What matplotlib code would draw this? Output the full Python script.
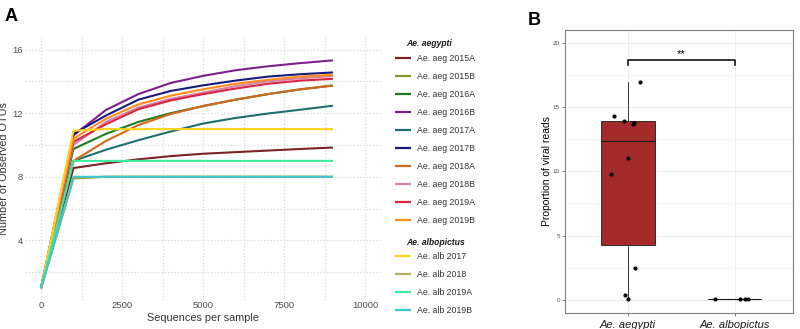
import matplotlib
matplotlib.use('Agg')
import matplotlib.pyplot as plt
import numpy as np

plt.rcParams['font.family'] = ['Liberation Sans', 'DejaVu Sans']

# --- panel A: rarefaction curves ---
depth = [0, 1000, 2000, 3000, 4000, 5000, 6000, 7000, 8000, 9000]

aeg_2015A = [1, 8.55, 8.85, 9.1, 9.3, 9.45, 9.55, 9.65, 9.75, 9.84]
aeg_2015B = [1, 7.9, 8.0, 8.0, 8.0, 8.0, 8.0, 8.0, 8.0, 8.0]
aeg_2016A = [1, 9.75, 10.7, 11.45, 12.0, 12.45, 12.85, 13.2, 13.5, 13.74]
aeg_2016B = [1, 10.6, 12.2, 13.2, 13.9, 14.35, 14.7, 14.95, 15.15, 15.32]
aeg_2017A = [1, 9.0, 9.7, 10.3, 10.85, 11.35, 11.7, 11.98, 12.22, 12.47]
aeg_2017B = [1, 10.7, 11.85, 12.85, 13.4, 13.75, 14.05, 14.3, 14.45, 14.56]
aeg_2018A = [1, 9.0, 10.25, 11.25, 11.95, 12.45, 12.85, 13.2, 13.5, 13.74]
aeg_2018B = [1, 10.0, 11.45, 12.35, 12.9, 13.3, 13.7, 14.0, 14.2, 14.33]
aeg_2019A = [1, 10.2, 11.3, 12.25, 12.8, 13.2, 13.55, 13.85, 14.05, 14.16]
aeg_2019B = [1, 10.4, 11.65, 12.55, 13.1, 13.5, 13.85, 14.1, 14.3, 14.41]
alb_2017 = [1, 10.9, 11.0, 11.0, 11.0, 11.0, 11.0, 11.0, 11.0, 11.0]
alb_2018 = [1, 7.95, 8.0, 8.0, 8.0, 8.0, 8.0, 8.0, 8.0, 8.0]
alb_2019A = [1, 9.0, 9.0, 9.0, 9.0, 9.0, 9.0, 9.0, 9.0, 9.0]
alb_2019B = [1, 8.0, 8.0, 8.0, 8.0, 8.0, 8.0, 8.0, 8.0, 8.0]

aeg_names = ['Ae. aeg 2015A', 'Ae. aeg 2015B', 'Ae. aeg 2016A', 'Ae. aeg 2016B',
             'Ae. aeg 2017A', 'Ae. aeg 2017B', 'Ae. aeg 2018A', 'Ae. aeg 2018B',
             'Ae. aeg 2019A', 'Ae. aeg 2019B']
alb_names = ['Ae. alb 2017', 'Ae. alb 2018', 'Ae. alb 2019A', 'Ae. alb 2019B']
aeg_curves = [aeg_2015A, aeg_2015B, aeg_2016A, aeg_2016B, aeg_2017A,
              aeg_2017B, aeg_2018A, aeg_2018B, aeg_2019A, aeg_2019B]
alb_curves = [alb_2017, alb_2018, alb_2019A, alb_2019B]
aeg_colors = ['#7B2323', '#8B9A2B', '#1F7A1F', '#7D1F8C', '#1F7070',
              '#1A1A7A', '#D2691E', '#D680B0', '#D7263D', '#FF8C1A']
alb_colors = ['#FFD21F', '#B5AE5A', '#3DEB9E', '#3CC8D0']

# --- panel B: proportion of viral reads ---
groups = ['Ae. aegypti', 'Ae. albopictus']
aeg_viral = [14.29, 13.95, 13.8, 13.7, 16.94, 11.01, 9.79, 2.44, 0.36, 0.05]
aeg_jitter = [-0.125, -0.04, 0.056, 0.05, 0.116, 0.0, -0.16, 0.07, -0.025, 0.0]
alb_viral = [0.05, 0.05, 0.05, 0.05]
alb_jitter = [-0.18, 0.047, 0.1, 0.13]

fig = plt.figure(figsize=(8, 3.29), dpi=100)

# ---------- A ----------
axA = fig.add_axes([0.031, 0.088, 0.446, 0.80])
for y, c in zip(aeg_curves, aeg_colors):
    axA.plot(depth, y, color=c, lw=1.5, solid_capstyle='butt')
for y, c in zip(alb_curves, alb_colors):
    axA.plot(depth, y, color=c, lw=1.5, solid_capstyle='butt')
axA.set_xlim(-500, 10500)
axA.set_ylim(0.25, 16.8)
axA.set_xticks([0, 2500, 5000, 7500, 10000])
axA.set_xticks([1250, 3750, 6250, 8750], minor=True)
axA.set_yticks([4, 8, 12, 16])
axA.set_yticks([2, 6, 10, 14], minor=True)
axA.grid(True, which='both', color='#D9D9D9', ls=':', lw=0.9)
axA.set_axisbelow(True)
for s in axA.spines.values():
    s.set_visible(False)
axA.tick_params(which='both', length=0, labelsize=6.8, labelcolor='#4D4D4D')
axA.tick_params(axis='x', pad=0.5)
axA.tick_params(axis='y', pad=1.5)
axA.set_xlabel('Sequences per sample', fontsize=7.8, color='#333333')
axA.set_ylabel('Number of Observed OTUs', fontsize=7.8, color='#333333')
axA.xaxis.set_label_coords(0.5, -0.05)
axA.yaxis.set_label_coords(-0.044, 0.5)

aeg_lines = axA.lines[:10]
alb_lines = axA.lines[10:]
leg_kw = dict(loc='upper left', frameon=False, fontsize=6.3, handlelength=1.8,
              handletextpad=0.7, labelspacing=1.03, borderaxespad=0, borderpad=0)
leg1 = fig.legend(aeg_lines, aeg_names, bbox_to_anchor=(0.494, 0.837), **leg_kw)
leg2 = fig.legend(alb_lines, alb_names, bbox_to_anchor=(0.494, 0.233), **leg_kw)
for leg in (leg1, leg2):
    for t in leg.get_texts():
        t.set_color('#333333')
    for l in leg.get_lines():
        l.set_linewidth(1.6)
fig.text(0.5075, 0.868, 'Ae. aegypti', fontsize=6.2, fontweight='bold',
         fontstyle='italic', va='center', color='#1A1A1A')
fig.text(0.5075, 0.2635, 'Ae. albopictus', fontsize=6.2, fontweight='bold',
         fontstyle='italic', va='center', color='#1A1A1A')

fig.text(0.006, 0.975, 'A', fontsize=13, fontweight='bold', va='top')

# ---------- B ----------
axB = fig.add_axes([0.706, 0.0496, 0.285, 0.859])
bp = axB.boxplot([aeg_viral, alb_viral], positions=[1, 2], widths=0.5,
                 patch_artist=True, showfliers=False,
                 whis=1.5, medianprops=dict(color='#1A1A1A', lw=0.8),
                 boxprops=dict(facecolor='#A52A2A', edgecolor='#1A1A1A', lw=0.6),
                 whiskerprops=dict(color='#1A1A1A', lw=0.6),
                 capprops=dict(lw=0))
axB.scatter(np.array(aeg_jitter) + 1, aeg_viral, s=4, color='black', zorder=3)
axB.scatter(np.array(alb_jitter) + 2, alb_viral, s=4, color='black', zorder=3)

# significance bracket
axB.plot([1, 1, 2, 2], [18.3, 18.7, 18.7, 18.3], color='black', lw=1.1)
axB.text(1.5, 19.1, '**', ha='center', va='center', fontsize=8)

axB.set_xlim(0.41, 2.545)
axB.set_ylim(-1, 21)
axB.set_xticks([1, 2])
axB.set_xticklabels(groups, fontstyle='italic', fontsize=8, color='#1A1A1A')
axB.set_yticks([0, 5, 10, 15, 20])
axB.set_yticks([2.5, 7.5, 12.5, 17.5], minor=True)
axB.grid(True, which='major', color='#EBEBEB', lw=0.6)
axB.grid(True, which='minor', axis='y', color='#F4F4F4', lw=0.5)
axB.set_axisbelow(True)
for s in axB.spines.values():
    s.set_color('#7F7F7F')
    s.set_linewidth(0.8)
axB.tick_params(axis='y', labelsize=4.5, labelcolor='#4D4D4D', color='#4D4D4D',
                length=2, width=0.5, pad=1.5)
axB.tick_params(axis='y', which='minor', length=0)
axB.tick_params(axis='x', length=2, width=0.5, color='#4D4D4D', pad=3)
axB.set_ylabel('Proportion of viral reads', fontsize=7.5)
axB.yaxis.set_label_coords(-0.057, 0.5)

fig.text(0.66, 0.965, 'B', fontsize=13, fontweight='bold', va='top')

fig.savefig('out.png', dpi=100)
